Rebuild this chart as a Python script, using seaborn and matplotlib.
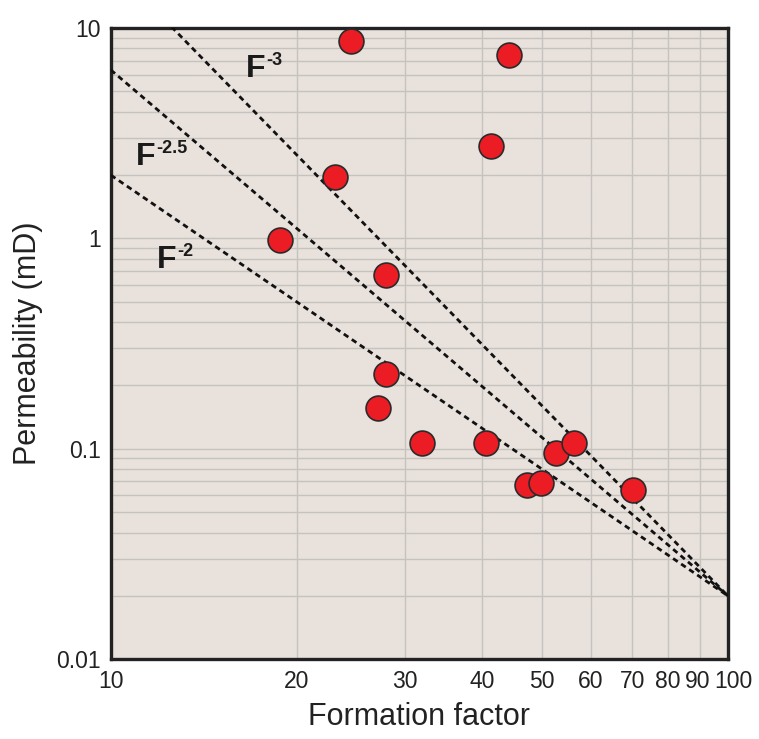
import numpy as np
import pandas as pd
import matplotlib.pyplot as plt
import matplotlib.transforms as mtrans
import seaborn as sns

# measured samples
formation_factor = [18.8, 23.1, 24.5, 27.9, 27.9, 27.1, 31.9, 40.6, 41.3, 44.2, 47.3, 49.8, 52.7, 56.4, 70.2]
permeability = [0.98, 1.95, 8.7, 0.67, 0.227, 0.157, 0.107, 0.107, 2.75, 7.46, 0.067, 0.069, 0.096, 0.107, 0.064]

# power-law guide lines k = k_ref * (F / F_ref) ** -n
exponents = [3, 2.5, 2]
exp_labels = ["-3", "-2.5", "-2"]
F_ref, k_ref = 100, 0.02

x_ticks = [10, 20, 30, 40, 50, 60, 70, 80, 90, 100]
y_ticks = [0.01, 0.1, 1, 10]
y_ticklabels = ["0.01", "0.1", "1", "10"]

df = pd.DataFrame({"F": formation_factor, "k": permeability})

sns.set_theme(style="ticks")
plt.rcParams["font.family"] = ["Liberation Sans", "DejaVu Sans"]

fig = plt.figure(figsize=(7.59, 7.39), dpi=100)
ax = fig.add_axes([0.146, 0.108, 0.813, 0.854])
ax.set_facecolor("#e8e1dc")
ax.set_xscale("log")
ax.set_yscale("log")

# guide lines
F_line = np.array([10, 100])
for n in exponents:
    line_df = pd.DataFrame({"F": F_line, "k": k_ref * (F_line / F_ref) ** (-n)})
    sns.lineplot(data=line_df, x="F", y="k", ax=ax, color="#111111", lw=2.0,
                 linestyle=(0, (2.0, 1.5)), zorder=3)

sns.scatterplot(data=df, x="F", y="k", ax=ax, s=320, color="#ec1c24",
                edgecolor="#2a2a2a", linewidth=1.2, zorder=4)

ax.set_xlim(10, 100)
ax.set_ylim(0.01, 10)
ax.grid(True, which="both", color="#c6c3bf", lw=1)
ax.set_axisbelow(True)

ax.set_xticks(x_ticks)
ax.set_xticklabels([str(t) for t in x_ticks])
ax.xaxis.set_minor_locator(plt.NullLocator())
ax.set_yticks(y_ticks)
ax.set_yticklabels(y_ticklabels)
ax.tick_params(axis="both", which="major", labelsize=16.5, length=0, colors="#222222")
ax.tick_params(axis="x", pad=8)
ax.tick_params(axis="y", pad=7)
ax.tick_params(axis="y", which="minor", length=0)

# the crowded labels at the right end sit slightly apart, as in the original
xlabels = ax.get_xticklabels()
for lbl, dx in zip(xlabels[-2:], [-2, 5]):
    lbl.set_transform(lbl.get_transform() + mtrans.ScaledTranslation(dx / 100, 0, fig.dpi_scale_trans))

for s in ax.spines.values():
    s.set_linewidth(2.4)
    s.set_color("#222222")

ax.set_xlabel("Formation factor", fontsize=22, labelpad=6, color="#222222")
ax.set_ylabel("Permeability (mD)", fontsize=22, labelpad=10, color="#222222")

# line annotations: bold F with a raised exponent
label_pos = [(16.55, 5.86), (10.97, 2.24), (11.89, 0.725)]
for (tx, ty), lab in zip(label_pos, exp_labels):
    ax.text(tx, ty, "F", fontsize=23, fontweight="bold", color="#1a1a1a",
            ha="left", va="baseline")
    ax.annotate(lab, xy=(tx, ty), xytext=(14.5, 8.5), textcoords="offset points",
                fontsize=13, fontweight="bold", color="#1a1a1a",
                ha="left", va="baseline")

fig.savefig("out.png", dpi=100)
